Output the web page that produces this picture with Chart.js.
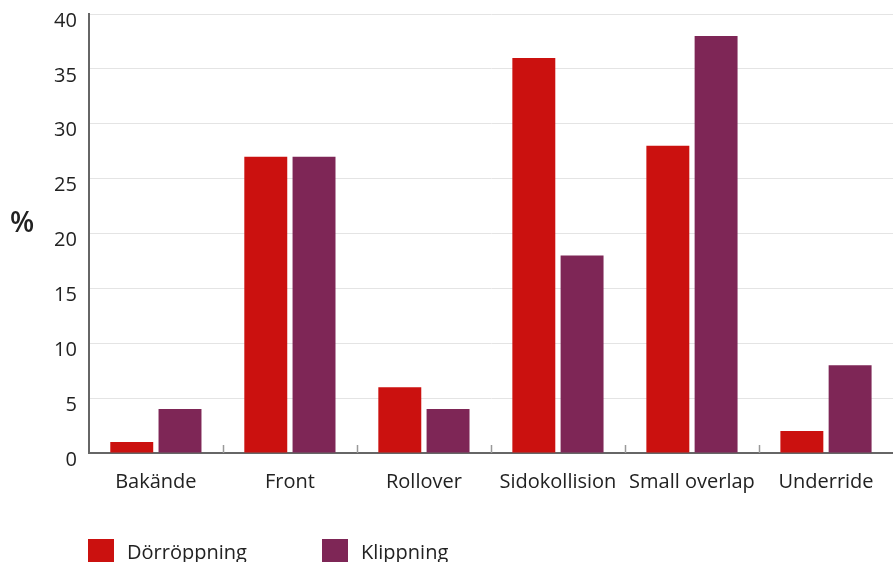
<!DOCTYPE html>
<html>
<head>
<meta charset="utf-8">
<script src="https://cdn.jsdelivr.net/npm/chart.js@4"></script>
<style>
    body { margin: 0; background: #fff; font-family: "Open Sans", sans-serif; }
    #wrap { position: relative; width: 893px; height: 562px; overflow: hidden; }
    #crashChart { position: absolute; left: 0; top: -10px; }
    #yTitle { position: absolute; left: 10px; top: 202px; font-size: 28px; font-weight: 600; color: #222; }
    .legend-item { position: absolute; top: 538px; display: flex; align-items: center; font-size: 20px; color: #222; }
    .legend-box { width: 26px; height: 26px; margin-right: 13px; }
</style>
</head>
<body>
<div id="wrap">
    <canvas id="crashChart" width="893" height="562"></canvas>
    <div id="yTitle">%</div>
    <div id="legend"></div>
</div>
<script>
const categories = ["Bakände", "Front", "Rollover", "Sidokollision", "Small overlap", "Underride"];
const seriesNames = ["Dörröppning", "Klippning"];
const dorroppning = [1, 27, 6, 36, 28, 2];
const klippning = [4, 27, 4, 18, 38, 8];
const colors = ["#cb110f", "#7e2656"];

// small upward ticks between categories on the x axis
const dividerTicks = {
    id: "dividerTicks",
    afterDatasetsDraw(chart) {
        const x = chart.scales.x;
        const ctx = chart.ctx;
        const bottom = chart.chartArea.bottom;
        ctx.save();
        ctx.strokeStyle = "#999";
        ctx.lineWidth = 1.5;
        for (let i = 1; i < categories.length; i++) {
            const px = Math.round((x.getPixelForValue(i - 1) + x.getPixelForValue(i)) / 2) + 0.5;
            ctx.beginPath();
            ctx.moveTo(px, bottom);
            ctx.lineTo(px, bottom - 8);
            ctx.stroke();
        }
        ctx.restore();
    }
};

const chart = new Chart(document.getElementById("crashChart"), {
    type: "bar",
    data: {
        labels: categories,
        datasets: [
            { label: seriesNames[0], data: dorroppning, backgroundColor: colors[0] },
            { label: seriesNames[1], data: klippning, backgroundColor: colors[1] }
        ]
    },
    options: {
        responsive: false,
        animation: false,
        layout: { autoPadding: false, padding: { left: 42, right: 0, top: 13, bottom: 49 } },
        datasets: { bar: { categoryPercentage: 0.72, barPercentage: 0.89 } },
        scales: {
            x: {
                grid: { display: false },
                border: { display: true, color: "#666", width: 2 },
                ticks: { color: "#222", font: { family: "Open Sans", size: 20 }, padding: 9 }
            },
            y: {
                min: 0,
                max: 40,
                ticks: { stepSize: 5, color: "#222", font: { family: "Open Sans", size: 20 }, padding: 12, labelOffset: 7 },
                grid: { color: "#e4e4e4", drawTicks: false },
                border: { color: "#666", width: 2 }
            }
        },
        plugins: {
            legend: { display: false },
            tooltip: { enabled: false }
        }
    },
    plugins: [dividerTicks]
});

// legend below the chart
const legend = document.getElementById("legend");
const legendLeft = [88, 322];
seriesNames.forEach((name, i) => {
    const item = document.createElement("div");
    item.className = "legend-item";
    item.style.left = legendLeft[i] + "px";
    item.innerHTML = `<span class="legend-box" style="background:${colors[i]}"></span><span>${name}</span>`;
    legend.appendChild(item);
});
</script>
</body>
</html>
